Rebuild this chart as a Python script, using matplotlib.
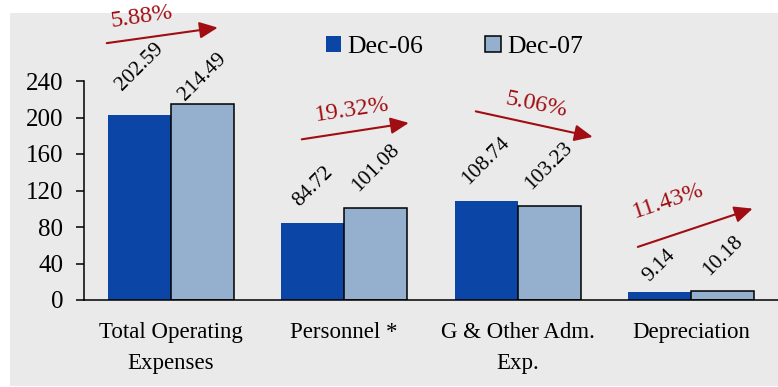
import matplotlib.pyplot as plt
from matplotlib.patches import Rectangle
import numpy as np

# Data
categories = ["Total Operating\nExpenses", "Personnel *", "G & Other Adm.\nExp.", "Depreciation"]
dec06 = [202.59, 84.72, 108.74, 9.14]
dec07 = [214.49, 101.08, 103.23, 10.18]
series_names = ["Dec-06", "Dec-07"]
pct_labels = ["5.88%", "19.32%", "5.06%", "11.43%"]

# Style
color06 = "#0B45A5"
color07 = "#95AFCF"
red = "#A00D12"
panel_gray = "#EAEAEA"
bar_w = 0.363
# gap (px) between bar top and value label
gap06 = [21, 12, 12, 6]
gap07 = [0, 12, 12, 11]
# arrow geometry relative to group centre / group max (data units)
arrow_dx = [(-0.369, 0.271), (-0.245, 0.372), (-0.242, 0.432), (-0.308, 0.354)]
arrow_dy = [(67, 84), (75, 93), (98, 70), (48, 90)]
pct_dx = [-0.167, 0.043, 0.11, -0.13]
pct_dy = [96, 107, 105, 98]
pct_rot = [8.5, 8.5, -11.5, 18.5]

plt.rcParams['font.family'] = ['Liberation Serif', 'DejaVu Serif']

fig = plt.figure(figsize=(7.78, 3.87), dpi=100)
fig.patch.set_facecolor("white")
fig.patches.append(Rectangle((10 / 778, 1 / 387), 1 - 10 / 778, 1 - 14 / 387,
                             transform=fig.transFigure, facecolor=panel_gray,
                             edgecolor="none", zorder=-1))

ax = fig.add_axes([84 / 778, 1 - 300 / 387, 1 - 84 / 778, 219 / 387])
ax.set_facecolor("none")

x = np.arange(len(categories))
b1 = ax.bar(x - bar_w / 2, dec06, bar_w, color=color06, edgecolor="none", label=series_names[0])
b2 = ax.bar(x + bar_w / 2, dec07, bar_w, color=color07, edgecolor="black", linewidth=1.1,
            label=series_names[1])

ax.set_xlim(-0.5, 3.5)
ax.set_ylim(0, 240)
ax.set_yticks(np.arange(0, 241, 40))
ax.set_xticks(x)
ax.set_xticklabels(categories, fontsize=16.5, linespacing=1.6)
ax.tick_params(axis="x", length=0, pad=16)
ax.tick_params(axis="y", length=5.8, width=1.1, direction="out", pad=9, labelsize=18)
for s in ["top", "right"]:
    ax.spines[s].set_visible(False)
ax.spines["left"].set_linewidth(1.1)
ax.spines["bottom"].set_linewidth(1.1)

# value labels
for i in range(len(categories)):
    ax.annotate(f"{dec06[i]:.2f}", (x[i] - bar_w / 2, dec06[i]), xytext=(0, gap06[i] * 0.72),
                textcoords="offset points", ha="center", va="bottom", rotation=45,
                fontsize=15.5, annotation_clip=False)
    ax.annotate(f"{dec07[i]:.2f}", (x[i] + bar_w / 2, dec07[i]), xytext=(0, gap07[i] * 0.72),
                textcoords="offset points", ha="center", va="bottom", rotation=45,
                fontsize=15.5, annotation_clip=False)

# change arrows
for i in range(len(categories)):
    top = max(dec06[i], dec07[i])
    x0, x1 = x[i] + arrow_dx[i][0], x[i] + arrow_dx[i][1]
    y0, y1 = top + arrow_dy[i][0], top + arrow_dy[i][1]
    ax.annotate("", xy=(x1, y1), xytext=(x0, y0), annotation_clip=False,
                arrowprops=dict(arrowstyle="-|>,head_length=0.55,head_width=0.25",
                                color=red, lw=1.5, mutation_scale=20,
                                shrinkA=0, shrinkB=0))
    ax.text(x[i] + pct_dx[i], top + pct_dy[i], pct_labels[i], color=red, fontsize=17.5,
            rotation=pct_rot[i], ha="center", va="center", rotation_mode="anchor",
            clip_on=False)

fig.legend(handles=[b1, b2], labels=series_names, loc="center",
           bbox_to_anchor=(0.584, 0.879), ncol=2, frameon=False, fontsize=18.5,
           handlelength=0.6, handleheight=0.6, handletextpad=0.25, columnspacing=2.4)

plt.savefig("out.png", dpi=100)
